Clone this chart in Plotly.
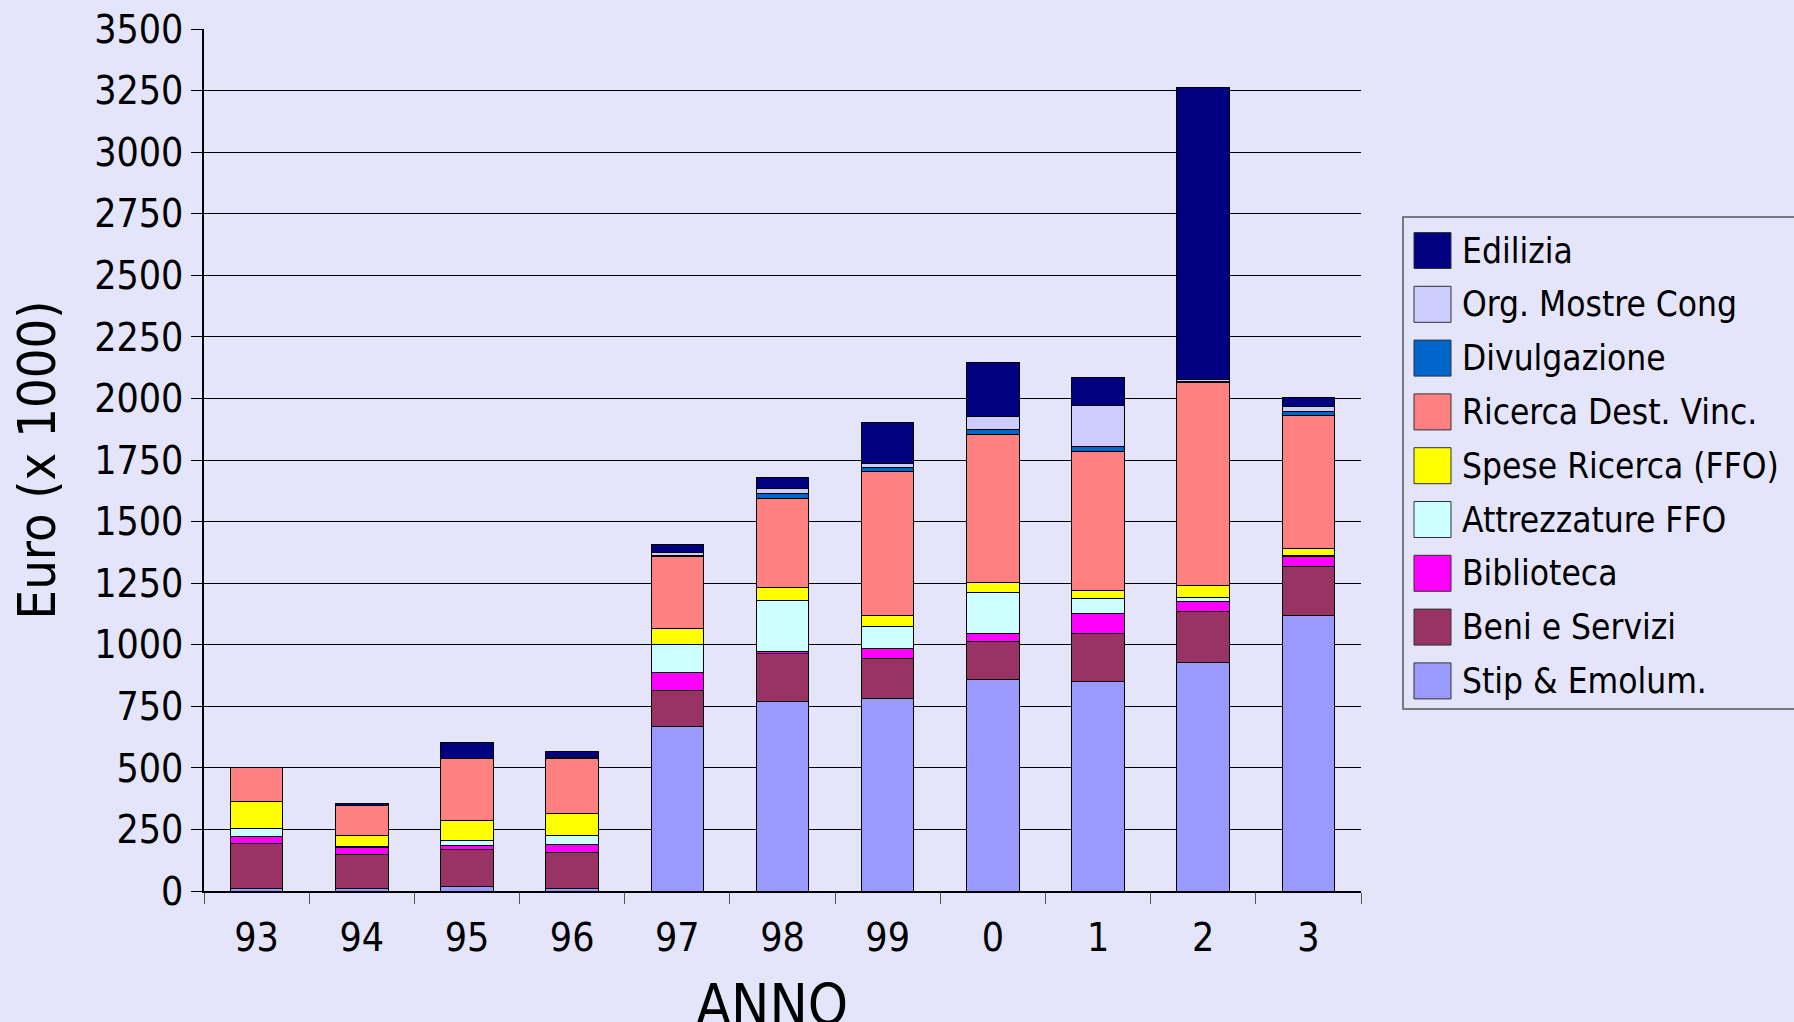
import plotly.graph_objects as go

# anni (asse x)
anni = ["93", "94", "95", "96", "97", "98", "99", "0", "1", "2", "3"]

# voci di spesa, dal basso verso l'alto (Euro x 1000)
stip = [10, 10, 19, 10, 669, 768, 780, 857, 850, 927, 1120]
beni = [182, 137, 149, 148, 146, 198, 165, 158, 194, 209, 197]
biblioteca = [30, 29, 16, 30, 74, 8, 39, 32, 84, 40, 40]
attrezzature = [33, 4, 20, 36, 110, 206, 88, 167, 60, 17, 6]
spese_ricerca = [110, 44, 81, 90, 65, 54, 48, 40, 33, 48, 28]
ricerca_vinc = [138, 125, 251, 224, 295, 358, 583, 601, 565, 822, 539]
divulgazione = [0, 0, 0, 3, 3, 20, 17, 19, 20, 5, 16]
org_mostre = [0, 0, 0, 2, 12, 24, 16, 52, 164, 8, 21]
edilizia = [0, 5, 65, 22, 31, 44, 167, 221, 116, 1186, 37]

nomi = ["Stip & Emolum.", "Beni e Servizi", "Biblioteca", "Attrezzature FFO",
        "Spese Ricerca (FFO)", "Ricerca Dest. Vinc.", "Divulgazione",
        "Org. Mostre Cong", "Edilizia"]
serie = [stip, beni, biblioteca, attrezzature, spese_ricerca, ricerca_vinc,
         divulgazione, org_mostre, edilizia]
colori = ["#9999FF", "#993366", "#FF00FF", "#CCFFFF", "#FFFF00", "#FF8080",
          "#0066CC", "#CCCCFF", "#000080"]

BG = "#E4E4FA"
FONT = "DejaVu Sans Condensed, DejaVu Sans, sans-serif"

W, H = 1794, 1022
ML, MR, MT, MB = 204, 433, 29, 131
PW, PH = W - ML - MR, H - MT - MB


def px_x(x):
    return (x - ML) / PW


def px_y(y):
    return (H - MB - y) / PH


fig = go.Figure()

for nome, valori, colore in zip(nomi, serie, colori):
    fig.add_trace(go.Bar(
        x=anni, y=valori, name=nome,
        marker=dict(color=colore, line=dict(color="black", width=1)),
        width=0.5, showlegend=False
    ))

# legenda disegnata a mano (quadrati grandi come nell'originale)
shapes = [dict(type="rect", xref="paper", yref="paper",
               x0=px_x(1403), x1=px_x(1800), y0=px_y(709), y1=px_y(217),
               line=dict(color="#555555", width=1.5), fillcolor=BG, layer="below")]
annotations = []
for i, (nome, colore) in enumerate(zip(reversed(nomi), reversed(colori))):
    cy = 250.5 + i * 53.8
    shapes.append(dict(type="rect", xref="paper", yref="paper",
                       x0=px_x(1414), x1=px_x(1451), y0=px_y(cy + 18), y1=px_y(cy - 18),
                       line=dict(color="#333333", width=1), fillcolor=colore))
    annotations.append(dict(xref="paper", yref="paper", x=px_x(1460), y=px_y(cy),
                            text=nome, showarrow=False, xanchor="left", yanchor="middle",
                            font=dict(family=FONT, size=35, color="black")))

# titolo asse x (tagliato in basso come nell'originale)
annotations.append(dict(xref="paper", yref="paper", x=px_x(772), y=px_y(978),
                        text="ANNO", showarrow=False, xanchor="center", yanchor="top",
                        yshift=8, font=dict(family=FONT, size=57, color="black")))

fig.update_layout(
    width=W, height=H,
    barmode="stack",
    paper_bgcolor=BG, plot_bgcolor=BG,
    margin=dict(l=ML, r=MR, t=MT, b=MB),
    shapes=shapes, annotations=annotations,
    font=dict(family=FONT, color="black"),
    xaxis=dict(
        type="category", automargin=False,
        tickfont=dict(size=39), ticklabelstandoff=11,
        ticks="outside", tickson="boundaries", ticklen=11, tickcolor="#555555",
        showline=True, linecolor="black", linewidth=1.5,
        showgrid=False,
    ),
    yaxis=dict(
        automargin=False,
        title=dict(text="Euro (x 1000)", font=dict(size=52), standoff=22),
        range=[0, 3500], dtick=250, tick0=0,
        tickfont=dict(size=39),
        ticks="outside", ticklen=11, tickcolor="black",
        showline=True, linecolor="black", linewidth=1.5,
        showgrid=True, gridcolor="black", gridwidth=1,
        zeroline=False,
    ),
)

# niente margine bianco della pagina attorno al grafico
fig.write_html("out.html", config={"displayModeBar": False},
               post_script="document.body.style.margin='0';document.body.style.overflow='hidden';")
